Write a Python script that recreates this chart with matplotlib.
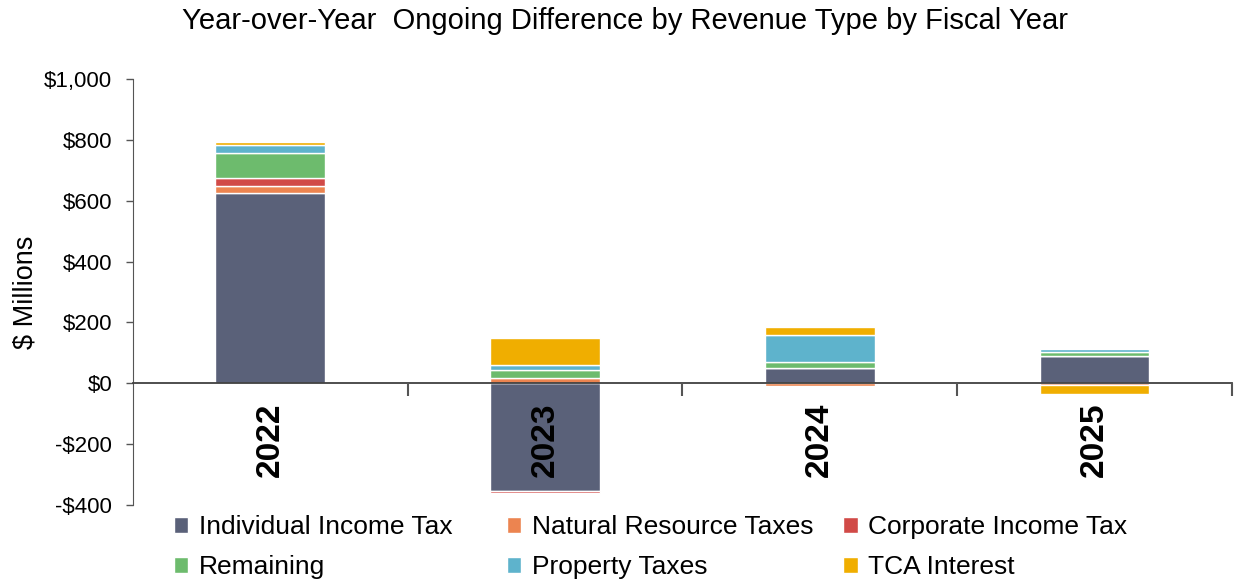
import numpy as np
import matplotlib.pyplot as plt

plt.rcParams['font.family'] = ['Liberation Sans', 'DejaVu Sans']

years = ['2022', '2023', '2024', '2025']
individual = [626, -355, 49, 88]
natural = [23, 18, -8, -5]
corporate = [25, -7, 0, 0]
remaining = [83, 24, 20, 16]
property_tax = [25, 19, 89, 10]
tca = [10, 89, 26, -32]

series = [
    ('Individual Income Tax', individual, '#5A6179'),
    ('Natural Resource Taxes', natural, '#EC8450'),
    ('Corporate Income Tax', corporate, '#D14A47'),
    ('Remaining', remaining, '#6DBB6D'),
    ('Property Taxes', property_tax, '#5EB3CC'),
    ('TCA Interest', tca, '#F0AE00'),
]

fig = plt.figure(figsize=(12.38, 5.81), dpi=100)
ax = fig.add_axes([0.1074, 0.131, 0.8876, 0.733])

x = np.arange(len(years))
pos_base = np.zeros(len(years))
neg_base = np.zeros(len(years))
handles = []
for name, vals, col in series:
    v = np.array(vals, dtype=float)
    base = np.where(v >= 0, pos_base, neg_base)
    h = ax.bar(x, v, 0.4, bottom=base, color=col, edgecolor='white',
               linewidth=1, label=name, zorder=1)
    handles.append(h)
    pos_base += np.where(v > 0, v, 0)
    neg_base += np.where(v < 0, v, 0)

ax.set_xlim(-0.5, 3.5)
ax.set_ylim(-400, 1000)
ax.set_yticks(range(-400, 1001, 200))
ax.set_yticklabels(['-$400', '-$200', '$0', '$200', '$400', '$600', '$800', '$1,000'])
ax.tick_params(axis='y', labelsize=16, length=5, width=1, color='#555555', pad=10)
ax.set_ylabel('$ Millions', fontsize=19.5, labelpad=4)

ax.spines['top'].set_visible(False)
ax.spines['right'].set_visible(False)
ax.spines['bottom'].set_position(('data', 0))
ax.spines['bottom'].set_color('#404040')
ax.spines['bottom'].set_linewidth(1.3)
ax.spines['left'].set_color('#555555')

# year labels sit on top of the bars
ax.set_xticks(x)
ax.set_xticklabels(years, rotation=90, fontsize=24, fontweight='bold', va='top')
ax.tick_params(axis='x', which='major', length=0, pad=14)
ax.set_xticks([0.5, 1.5, 2.5, 3.5], minor=True)
ax.tick_params(axis='x', which='minor', length=9, width=1.5, color='#555555')
ax.xaxis.set_zorder(5)

fig.suptitle('Year-over-Year  Ongoing Difference by Revenue Type by Fiscal Year',
             fontsize=21, x=0.505, y=0.988)

# legend: three equal-width columns, two rows each
col_x = [0.1405, 0.4095, 0.681]
for c in range(3):
    idx = [c, c + 3]
    fig.legend([handles[i] for i in idx], [series[i][0] for i in idx],
               loc='upper left', bbox_to_anchor=(col_x[c], 0.113), frameon=False,
               fontsize=19, handlelength=0.55, handleheight=0.55,
               handletextpad=0.4, labelspacing=0.6, borderaxespad=0,
               borderpad=0)

fig.savefig('out.png', dpi=100)
